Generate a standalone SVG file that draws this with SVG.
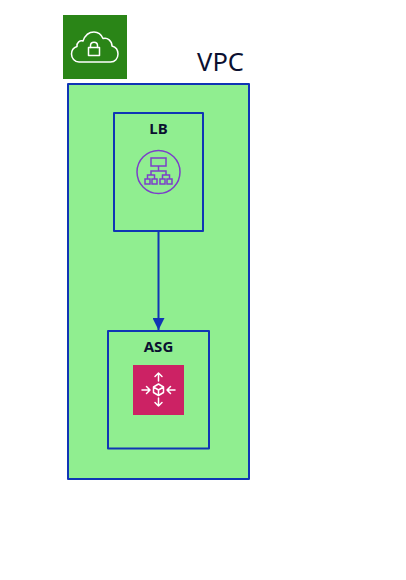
<svg xmlns="http://www.w3.org/2000/svg" width="406" height="580" viewBox="0 0 406 580">
<style>
.box{stroke:#1035b5;stroke-width:2;stroke-linejoin:round}
.t{font-family:"Noto Sans","Open Sans",sans-serif;fill:#0b1030;text-anchor:middle}
.b{font-size:15px;font-weight:700}
.ic{fill:none;stroke:#7b3fc9;stroke-width:1.5}
.w{fill:none;stroke:#fff;stroke-width:1.500;stroke-linecap:round;stroke-linejoin:round}
</style>
<defs><marker id="arrow" markerUnits="userSpaceOnUse" markerWidth="13" markerHeight="12" refX="12" refY="6" orient="auto"><path d="M0 0L12 6L0 12z" fill="#1035b5"/></marker></defs>
<rect width="406" height="580" fill="#fff"/>
<g id="gateway">
<rect x="63" y="15" width="64" height="64" fill="#2a8517"/>
<path class="w" d="M79 62C74.500 62 71.500 58 71.500 54C71.500 50 74 47.500 77 46.500C76.500 42.500 80 40 83 41C85 35.500 89 32 94 32C98 32 101.500 35 103 38.500C107.500 37 112 41 112 46C115.500 47 118 50 118 54C118 58.500 115 62 110.500 62Z"/>
<rect class="w" x="88.500" y="47.500" width="11" height="8"/>
<path class="w" d="M90.500 47.500V45.500C90.500 41 97.500 41 97.500 45.500V47.500"/>
</g>
<g id="vpc">
<rect class="box" x="68" y="84" width="181" height="395" fill="#90ee90"/>
<text class="t" x="220.500" y="71" font-size="25.500">VPC</text>
</g>
<g id="lb">
<rect class="box" x="114" y="113" width="89" height="118" fill="none"/>
<text class="t b" x="158.500" y="134">LB</text>
<circle class="ic" cx="158.500" cy="172" r="21.500"/>
<rect class="ic" x="151" y="158" width="15" height="8"/>
<path class="ic" d="M158.500 166V171M151 175V171H166V175M147.500 179V175H154.500V179M162.500 179V175H169.500V179"/>
<rect class="ic" x="145" y="179" width="5" height="5"/>
<rect class="ic" x="152" y="179" width="5" height="5"/>
<rect class="ic" x="160" y="179" width="5" height="5"/>
<rect class="ic" x="167" y="179" width="5" height="5"/>
</g>
<g id="asg">
<rect class="box" x="108" y="331" width="101" height="117.500" fill="none"/>
<text class="t b" x="158.500" y="352">ASG</text>
<rect x="133" y="365" width="51" height="50" fill="#cc2264"/>
<path class="w" d="M158.500 384L153.500 387V392.500L158.500 395.500L163.500 392.500V387ZM153.500 387L158.500 390L163.500 387M158.500 390V395.500"/>
<path class="w" d="M158.500 381V373M155 376.500L158.500 373L162 376.500M158.500 398V406M155 402.500L158.500 406L162 402.500M142 390H150M146.500 386.500L150 390L146.500 393.500M175 390H167M170.500 386.500L167 390L170.500 393.500"/>
</g>
<g id="connectors">
<path d="M158.500 232V330" fill="none" stroke="#1035b5" stroke-width="2" marker-end="url(#arrow)"/>
</g>
</svg>
